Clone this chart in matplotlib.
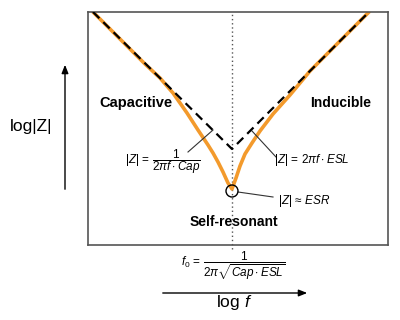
import matplotlib.pyplot as plt
from matplotlib.patches import Circle

plt.rcParams['font.family'] = ['Liberation Sans', 'DejaVu Sans']
plt.rcParams['mathtext.fontset'] = 'custom'
plt.rcParams['mathtext.rm'] = 'Liberation Sans'
plt.rcParams['mathtext.it'] = 'Liberation Sans:italic'
plt.rcParams['mathtext.bf'] = 'Liberation Sans:bold'

# impedance curve (log f, log|Z| in arbitrary units)
curve_x = [5, 32, 57, 72, 85, 99, 110, 120, 125, 130, 135, 140, 144,
           148, 152, 157, 164, 172, 185, 202, 212, 222, 252, 281]
curve_y = [233, 206, 181, 167, 152, 132, 115, 100, 92, 83, 73, 62, 56,
           67, 79, 91, 102, 114, 131, 150, 162, 174, 204, 233]

# asymptotes: capacitive and inductive
asym_x = [5, 144, 281]
asym_y = [233, 96, 233]

f0 = 144
esr = 54

region_labels = ['Capacitive', 'Inducible', 'Self-resonant']

fig = plt.figure(figsize=(4, 3.2), dpi=100)
ax = fig.add_axes([88/400, 1 - 245/320, 300/400, 233/320])
ax.set_xlim(0, 300)
ax.set_ylim(0, 233)
ax.set_xticks([])
ax.set_yticks([])
for s in ax.spines.values():
    s.set_color('#555555')
    s.set_linewidth(1.2)

orange = '#F39A2C'
ax.plot([f0, f0], [-4, 233], color='#555555', lw=1.0, ls=(0, (1, 2)), zorder=1, clip_on=False)
ax.plot(curve_x, curve_y, color=orange, lw=2.6, solid_capstyle='round', solid_joinstyle='round', zorder=2)
ax.plot(asym_x, asym_y, color='black', lw=1.6, ls=(0, (4, 2.5)), zorder=3)
ax.add_patch(Circle((f0, esr), 6, fill=False, ec='black', lw=1.0, zorder=4))

ax.text(48, 142, region_labels[0], fontsize=10.5, fontweight='bold', ha='center', va='center')
ax.text(253, 142, region_labels[1], fontsize=10, fontweight='bold', ha='center', va='center')
ax.text(146, 23, region_labels[2], fontsize=10, fontweight='bold', ha='center', va='center')

# leader lines and formulas
ax.plot([100, 125], [93, 115], color='#333333', lw=0.8)
ax.text(113, 83, r'$|Z|\,=\,\dfrac{1}{2\pi f\cdot Cap}$', fontsize=8.5, ha='right', va='center')
ax.plot([164, 188], [114, 88], color='#333333', lw=0.8)
ax.text(186, 85, r'$|Z|\,=\,2\pi f\cdot ESL$', fontsize=8.5, ha='left', va='center')
ax.plot([150, 185], [53, 48], color='#333333', lw=0.8)
ax.text(190, 44, r'$|Z|\,\approx\,ESR$', fontsize=8.5, ha='left', va='center')


def fpos(x, y):
    return (x / 400, 1 - y / 320)


fig.text(*fpos(31, 127), 'log|Z|', fontsize=12.5, ha='center', va='center')
fig.text(*fpos(234, 303), r'log $f$', fontsize=12.5, ha='center', va='center')
fig.text(*fpos(233, 266), r'$f_0\,=\,\dfrac{1}{2\pi\sqrt{Cap\cdot ESL}}$', fontsize=8.5, ha='center', va='center')

ax.annotate('', xy=fpos(65, 62), xytext=fpos(65, 192), xycoords='figure fraction',
            textcoords='figure fraction',
            arrowprops=dict(arrowstyle='-|>,head_length=0.5,head_width=0.2', color='black', lw=1.0))
ax.annotate('', xy=fpos(310, 293), xytext=fpos(160, 293), xycoords='figure fraction',
            textcoords='figure fraction',
            arrowprops=dict(arrowstyle='-|>,head_length=0.5,head_width=0.2', color='black', lw=1.0))

plt.savefig('out.png', dpi=100)
